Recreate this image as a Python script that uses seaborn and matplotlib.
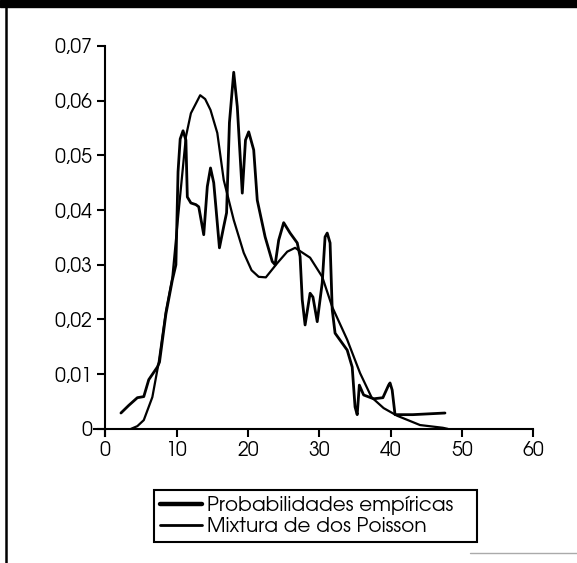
import matplotlib
matplotlib.use('Agg')
import matplotlib.pyplot as plt
import seaborn as sns
from matplotlib.ticker import FuncFormatter
from matplotlib.lines import Line2D

# ── data ─────────────────────────────────────────────────────
emp_x = [2.2, 3.3, 4.5, 5.4, 6.1, 7.3, 7.6, 8.5, 9.4, 9.9, 10.2, 10.5, 10.9,
         11.3, 11.5, 12.0, 12.7, 13.1, 13.8, 14.3, 14.75, 15.2, 15.5, 16.0,
         16.6, 17.0, 17.4, 18.0, 18.5, 19.2, 19.65, 20.1, 20.8, 21.3, 22.4,
         23.4, 23.8, 24.3, 25.0, 25.9, 26.9, 27.3, 27.6, 28.0, 28.7, 29.1,
         29.7, 30.4, 30.8, 31.1, 31.5, 31.8, 32.2, 33.9, 34.6, 35.0, 35.3,
         35.6, 36.2, 37.6, 38.9, 39.7, 39.9, 40.2, 40.6, 43.1, 47.6]
emp_y = [0.0029, 0.0043, 0.0057, 0.0059, 0.0090, 0.0113, 0.0122, 0.0210,
         0.0272, 0.0300, 0.0470, 0.0530, 0.0545, 0.0528, 0.0424, 0.0413,
         0.0410, 0.0406, 0.0355, 0.0443, 0.0477, 0.0450, 0.0406, 0.0331,
         0.0370, 0.0395, 0.0560, 0.0652, 0.0589, 0.0431, 0.0528, 0.0543,
         0.0510, 0.0418, 0.0351, 0.0306, 0.0300, 0.0345, 0.0377, 0.0358,
         0.0340, 0.0315, 0.0236, 0.0190, 0.0248, 0.0241, 0.0196, 0.0267,
         0.0351, 0.0358, 0.0340, 0.0218, 0.0175, 0.0144, 0.0113, 0.0040,
         0.0026, 0.0080, 0.0062, 0.0055, 0.0057, 0.0080, 0.0084, 0.0071,
         0.0026, 0.0026, 0.0029]

mix_x = [3.6, 4.5, 5.4, 6.6, 7.5, 8.5, 9.4, 10.3, 11.3, 12.0, 13.3, 14.0,
         14.75, 15.7, 16.6, 18.0, 19.4, 20.5, 21.5, 22.5, 24.1, 25.5, 26.6,
         28.7, 30.4, 31.8, 33.9, 35.7, 37.3, 39.0, 40.9, 44.1, 47.3, 48.0]
mix_y = [0.0, 0.0005, 0.0016, 0.0058, 0.0122, 0.0215, 0.0276, 0.0400,
         0.0534, 0.0577, 0.0610, 0.0603, 0.0583, 0.0541, 0.0455, 0.0382,
         0.0322, 0.0290, 0.0278, 0.0277, 0.0303, 0.0324, 0.0331, 0.0313,
         0.0278, 0.0223, 0.0163, 0.0102, 0.0058, 0.0038, 0.0024, 0.0007,
         0.0002, 0.0]

labels = ['Probabilidades empíricas', 'Mixtura de dos Poisson']
x_ticks = [0, 10, 20, 30, 40, 50, 60]
y_ticks = [0, 0.01, 0.02, 0.03, 0.04, 0.05, 0.06, 0.07]

# ── figure ───────────────────────────────────────────────────
sns.set_style('ticks')
plt.rcParams['font.family'] = ['TeX Gyre Adventor', 'DejaVu Sans']
plt.rcParams['text.color'] = 'black'

fig = plt.figure(figsize=(5.77, 5.63), dpi=100)
ax = fig.add_axes([0.1626, 0.2256, 0.762, 0.6927])

sns.lineplot(x=emp_x, y=emp_y, ax=ax, color='black', lw=2.0, sort=False)
sns.lineplot(x=mix_x, y=mix_y, ax=ax, color='black', lw=1.6, sort=False)

# axes crossing at the origin, as in the scan
for side in ['top', 'right']:
    ax.spines[side].set_visible(False)
for side in ['left', 'bottom']:
    ax.spines[side].set_position(('data', 0))
    ax.spines[side].set_linewidth(1.5)
    ax.spines[side].set_color('black')

ax.set_xlim(-1.6, 60)
ax.set_ylim(-0.0013, 0.07)
ax.set_xticks(x_ticks)
ax.set_yticks(y_ticks)
ax.xaxis.set_major_formatter(FuncFormatter(lambda v, _: f'{v:.0f}'))
ax.yaxis.set_major_formatter(FuncFormatter(
    lambda v, _: '0' if abs(v) < 1e-9 else f'{v:.2f}'.replace('.', ',')))

ax.tick_params(axis='both', which='major', direction='out', length=6,
               width=1.5, color='black', pad=3, labelcolor='black',
               labelsize=14)
ax.tick_params(axis='x', bottom=True, top=False)
ax.tick_params(axis='y', left=True, right=False)

# legend box below the axes
handles = [Line2D([], [], color='black', lw=3.2),
           Line2D([], [], color='black', lw=2.0)]
leg = fig.legend(handles, labels, loc='lower left',
                 bbox_to_anchor=(0.267, 0.0373, 0.56, 0.0924), mode='expand',
                 fontsize=14.5, frameon=True, fancybox=False, framealpha=1,
                 handlelength=2.1, handletextpad=0.25, labelspacing=0.1,
                 borderpad=0.3, borderaxespad=0)
leg.get_frame().set_edgecolor('black')
leg.get_frame().set_linewidth(1.5)

# scan borders
fig.patches.append(plt.Rectangle((0, 1 - 7 / 563), 1, 7 / 563,
                                 transform=fig.transFigure, color='black'))
fig.lines.append(Line2D([6 / 577, 6 / 577], [0, 1], transform=fig.transFigure,
                        color='black', lw=1.8))
fig.lines.append(Line2D([470 / 577, 1], [1 - 553 / 563, 1 - 553 / 563],
                        transform=fig.transFigure, color='#aaaaaa', lw=1))

fig.savefig('out.png', dpi=100)
